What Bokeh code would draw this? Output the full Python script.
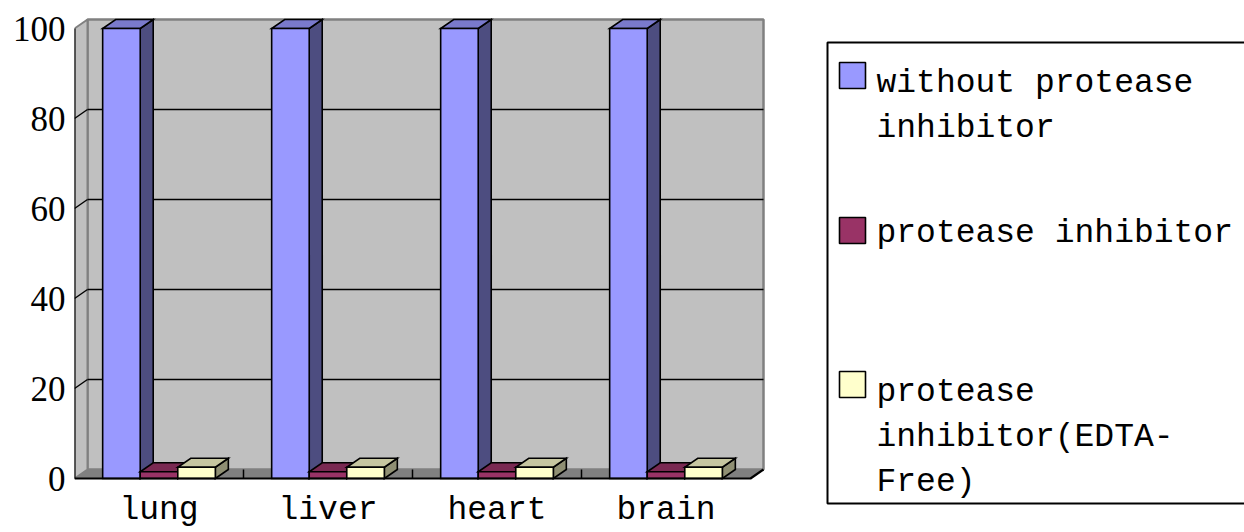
from bokeh.plotting import figure
from bokeh.models import Range1d, FixedTicker
from bokeh.embed import file_html
from bokeh.resources import INLINE
from bokeh.core.properties import value

# ---------------- data ----------------
categories = ["lung", "liver", "heart", "brain"]
series_names = ["without protease inhibitor", "protease inhibitor",
                "protease inhibitor(EDTA-Free)"]
without_inhibitor = [100, 100, 100, 100]
with_inhibitor = [1.5, 1.5, 1.5, 1.5]
with_inhibitor_edta_free = [2.5, 2.5, 2.5, 2.5]
y_ticks = [0, 20, 40, 60, 80, 100]
legend_lines = [["without protease", "inhibitor"],
                ["protease inhibitor"],
                ["protease", "inhibitor(EDTA-", "Free)"]]

series_values = [without_inhibitor, with_inhibitor, with_inhibitor_edta_free]

# ---------------- styles ----------------
front_colors = ["#9999FF", "#993366", "#FFFFCC"]
top_colors = ["#7A7ACC", "#7A2952", "#C6C6A0"]
side_colors = ["#4D4D80", "#4D1A33", "#8F8F73"]
WALL = "#C0C0C0"
FLOOR = "#808080"
EDGE = "#808080"
TXT_FONT = "Liberation Mono"

# layout (pixels)
W, H = 1244, 532
LEFT = 74            # x pixel of the front-left corner of the plot
FLOOR_Y = 478        # y pixel of the front floor edge
PX_CAT = 169.0       # pixels per category
PX_VAL = 4.5         # pixels per value unit
DX = 13.0 / PX_CAT   # depth offset in category units
DY = 9.0 / PX_VAL    # depth offset in value units
n_cat = len(categories)
n_ser = len(series_values)
GAP = 1.5
bar_w = 1.0 / (n_ser + GAP)
start = GAP / 2 * bar_w
y_top = max(y_ticks)

p = figure(width=W, height=H, output_backend="svg", toolbar_location=None,
           x_range=Range1d(0, (W - LEFT) / PX_CAT),
           y_range=Range1d(-(H - FLOOR_Y) / PX_VAL, FLOOR_Y / PX_VAL),
           x_axis_location=None,
           min_border_left=LEFT, min_border_right=0, min_border_top=0,
           min_border_bottom=0, outline_line_color=None,
           background_fill_color="white", border_fill_color="white")
p.grid.visible = False
p.extra_x_ranges = {"px": Range1d(LEFT, W)}
p.extra_y_ranges = {"px": Range1d(H, 0)}

# walls and floor
p.patch([DX, n_cat + DX, n_cat + DX, DX], [DY, DY, y_top + DY, y_top + DY],
        fill_color=WALL, line_color=EDGE, line_width=2.5)
p.patch([0, DX, DX, 0], [0, DY, y_top + DY, y_top],
        fill_color=WALL, line_color=EDGE, line_width=2)
p.patch([0, n_cat, n_cat + DX, DX], [0, 0, DY, DY],
        fill_color=FLOOR, line_color=None)

# gridlines on back and side walls
gl = [t for t in y_ticks if 0 < t < y_top]
p.segment(x0=[DX] * len(gl), y0=[t + DY for t in gl],
          x1=[n_cat + DX] * len(gl), y1=[t + DY for t in gl],
          line_color="black", line_width=1.6)
p.segment(x0=[0] * len(gl), y0=gl, x1=[DX] * len(gl), y1=[t + DY for t in gl],
          line_color="black", line_width=1.4)

# category ticks on floor
p.segment(x0=list(range(1, n_cat)), y0=[0] * (n_cat - 1),
          x1=list(range(1, n_cat)), y1=[DY] * (n_cat - 1),
          line_color="black", line_width=1.5)

# bars (side, top, front, drawn left to right)
xs, ys, fills = [], [], []
for i in range(n_cat):
    for s in range(n_ser):
        v = series_values[s][i]
        x0 = i + start + s * bar_w
        x1 = x0 + bar_w
        xs.append([x1, x1 + DX, x1 + DX, x1]); ys.append([0, DY, v + DY, v])
        fills.append(side_colors[s])
        xs.append([x0, x1, x1 + DX, x0 + DX]); ys.append([v, v, v + DY, v + DY])
        fills.append(top_colors[s])
        xs.append([x0, x1, x1, x0]); ys.append([0, 0, v, v])
        fills.append(front_colors[s])
p.patches(xs=xs, ys=ys, fill_color=fills, line_color="black", line_width=1.6,
          line_join="miter")

# front edges
p.line([0, 0], [0, y_top], line_color="black", line_width=2)
p.line([0, n_cat, n_cat + DX], [0, 0, DY], line_color="black", line_width=2.2)

# value axis
ya = p.yaxis[0]
ya.ticker = FixedTicker(ticks=y_ticks)
ya.axis_line_color = None
ya.major_tick_out = 0
ya.major_tick_in = 0
ya.minor_tick_line_color = None
ya.major_label_standoff = 9
ya.major_label_text_font = "Liberation Serif"
ya.major_label_text_font_size = "35px"
ya.major_label_text_color = "black"

# category labels under the floor
p.text(x=[i + 0.5 for i in range(n_cat)], y=[-32 / PX_VAL] * n_cat,
       text=categories, text_font=value(TXT_FONT), text_font_size="33px",
       text_align="center", text_baseline="alphabetic", text_color="black")

# ---------------- legend (pixel coordinates) ----------------
p.line([1400, 827, 827, 1400], [42, 42, 503, 503], line_color="black",
       line_width=2, x_range_name="px", y_range_name="px")

square_y = [75, 230, 384]
first_baseline = [83, 233, 392]
line_pitch = 45
tx, ty, tt = [], [], []
for k, lines in enumerate(legend_lines):
    for j, t in enumerate(lines):
        tx.append(876); ty.append(first_baseline[k] + j * line_pitch); tt.append(t)
p.rect(x=[852] * n_ser, y=square_y, width=26, height=26,
       fill_color=front_colors, line_color="black", line_width=1.6,
       x_range_name="px", y_range_name="px")
p.text(x=tx, y=ty, text=tt, text_font=value(TXT_FONT),
       text_font_size="33px", text_baseline="alphabetic", text_align="left",
       text_color="black", x_range_name="px", y_range_name="px")

open("out.html", "w").write(file_html(p, INLINE))
